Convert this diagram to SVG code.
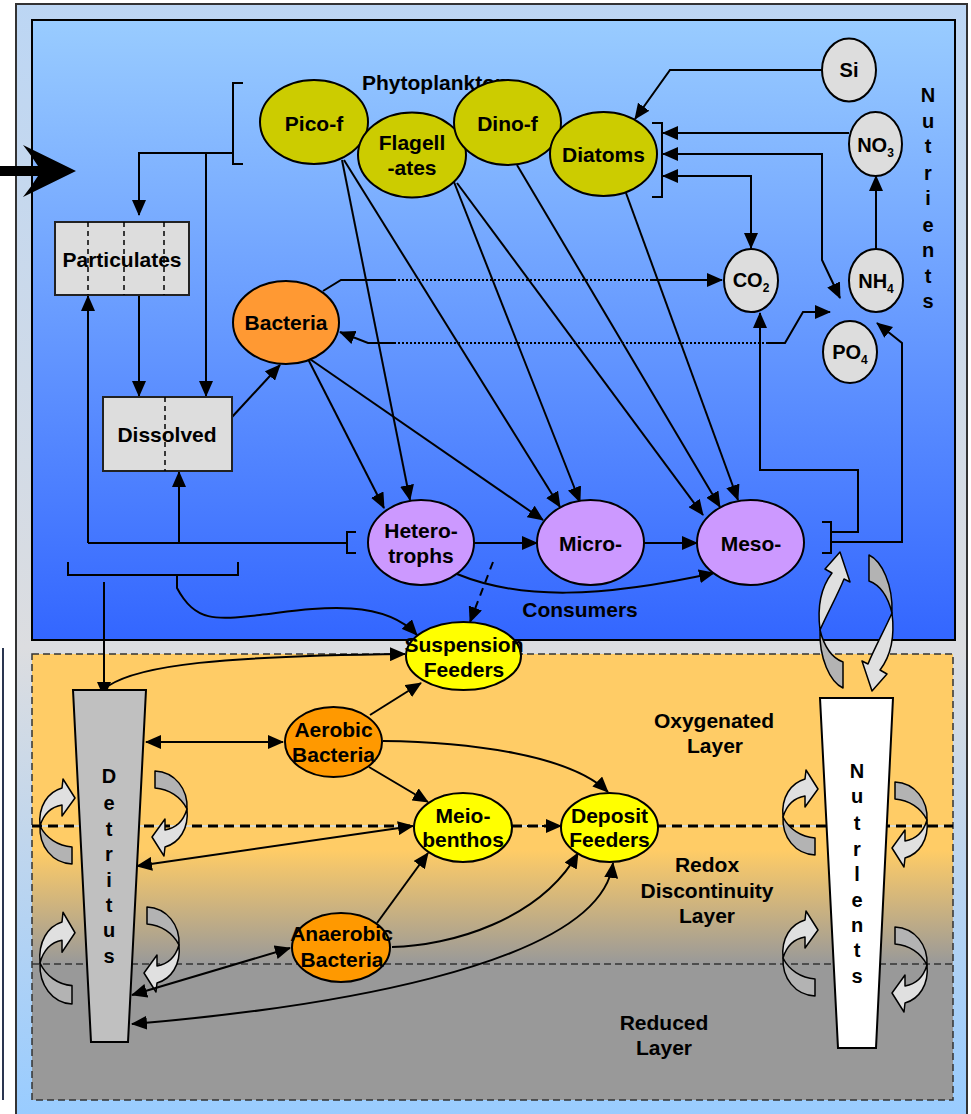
<svg xmlns="http://www.w3.org/2000/svg" width="971" height="1114" viewBox="0 0 971 1114">
<style>
.t{font-family:"Liberation Sans",Arial,Helvetica,sans-serif;font-weight:bold;font-size:21px;fill:#000;text-anchor:middle}
.v{font-size:20px}
.ch{font-size:20px}
.sub{font-size:12px}
.c{fill:none;stroke:#000;stroke-width:2}
.a{marker-end:url(#ah)}
.b{marker-start:url(#ah);marker-end:url(#ah)}
.dot{stroke-dasharray:2,2}
.dsh{stroke-dasharray:8,6}
.nd{stroke:#000;stroke-width:2}
.phy{fill:#cccc00}
.bac{fill:#ff9933}
.bac2{fill:#ff9900}
.con{fill:#cc99ff}
.yel{fill:#ffff00}
.nut{fill:#dddddd}
.box{fill:#dddddd;stroke:#222;stroke-width:2}
.bd{stroke:#000;stroke-width:1.5;stroke-dasharray:5,4}
.cl{fill:#e0e0e0;stroke:#000;stroke-width:1.5;stroke-linejoin:round}
.cd{fill:#b3b3b3;stroke:#000;stroke-width:1.5;stroke-linejoin:round}
</style>
<defs>
<linearGradient id="gFrame" gradientUnits="userSpaceOnUse" x1="0" y1="4" x2="0" y2="1114">
<stop offset="0" stop-color="#bcd6f4"/><stop offset="0.58" stop-color="#dcdde0"/><stop offset="1" stop-color="#99ccff"/>
</linearGradient>
<linearGradient id="gTop" gradientUnits="userSpaceOnUse" x1="0" y1="20" x2="0" y2="640">
<stop offset="0" stop-color="#99ccff"/><stop offset="1" stop-color="#3366ff"/>
</linearGradient>
<linearGradient id="gBot" gradientUnits="userSpaceOnUse" x1="0" y1="654" x2="0" y2="1100">
<stop offset="0" stop-color="#ffcc66"/><stop offset="0.44" stop-color="#ffcc66"/><stop offset="0.695" stop-color="#999999"/><stop offset="1" stop-color="#999999"/>
</linearGradient>
<marker id="ah" viewBox="0 0 16 14" refX="15" refY="7" markerWidth="16" markerHeight="14" markerUnits="userSpaceOnUse" orient="auto-start-reverse">
<path d="M0,0 L16,7 L0,14 Z" fill="#000"/>
</marker>
<g id="curlL">
<path class="cd" d="M0,0 C-1,20 12,37 32,38 L32,21 C18,20 6,12 0,0 Z"/>
<path class="cl" d="M0,0 C-2,-20 8,-34 22,-38 L23,-47 L35,-28 L22,-10 L22,-21 C10,-19 3,-10 0,0 Z"/>
</g>
<g id="curlT">
<path class="cd" d="M0,0 C-1,28 10,52 23,58 L23,32 C12,28 4,16 0,0 Z"/>
<path class="cl" d="M0,0 C-3,-24 2,-44 12,-57 L5,-61 L20,-78 L30,-48 L24,-51 C18,-36 8,-18 0,0 Z"/>
</g>
</defs>

<g id="background">
<rect x="0" y="0" width="971" height="1114" fill="#ffffff"/>
<rect x="16" y="4" width="951" height="1115" fill="url(#gFrame)" stroke="#333" stroke-width="2"/>
<line x1="3" y1="648" x2="3" y2="1100" stroke="#2a3550" stroke-width="2"/>
<rect id="water-column" x="32" y="20" width="923" height="620" fill="url(#gTop)" stroke="#000" stroke-width="2"/>
<rect id="sediment" x="32" y="654" width="921" height="446" fill="url(#gBot)" stroke="#333" stroke-width="1.5" stroke-dasharray="7,4"/>
<line x1="32" y1="826" x2="953" y2="826" stroke="#cfe0f5" stroke-width="1.5"/>
<line x1="32" y1="826" x2="953" y2="826" stroke="#000" stroke-width="3" stroke-dasharray="10,6"/>
<line x1="32" y1="964" x2="953" y2="964" stroke="#333" stroke-width="1.5" stroke-dasharray="7,4"/>
</g>

<g id="layer-labels">
<text class="t" x="714" y="728">Oxygenated</text>
<text class="t" x="715" y="753">Layer</text>
<text class="t" x="707" y="872">Redox</text>
<text class="t" x="707" y="898">Discontinuity</text>
<text class="t" x="707" y="923">Layer</text>
<text class="t" x="664" y="1030">Reduced</text>
<text class="t" x="664" y="1055">Layer</text>
<text class="t" x="580" y="617">Consumers</text>
</g>

<g id="mixing-arrows">
<use href="#curlL" transform="translate(40,826)"/>
<use href="#curlL" transform="translate(187,809) rotate(180)"/>
<use href="#curlL" transform="translate(40,963) scale(1,1.08)"/>
<use href="#curlL" transform="translate(179,945) rotate(180)"/>
<use href="#curlL" transform="translate(783,817)"/>
<use href="#curlL" transform="translate(927,820) rotate(180)"/>
<use href="#curlL" transform="translate(783,958)"/>
<use href="#curlL" transform="translate(927,965) rotate(180)"/>
<use href="#curlT" transform="translate(820,630)"/>
<use href="#curlT" transform="translate(892,613) rotate(180)"/>
</g>

<g id="connectors">
<path class="c" d="M243,83 L233,83 L233,164 L243,164"/>
<path class="c a" d="M233,153 L139,153 L139,215"/>
<path class="c a" d="M206,153 L206,396"/>
<path class="c a" d="M139,295 L139,396"/>
<path class="c a" d="M232,417 L280,365"/>
<path class="c" d="M356,532 L347,532 L347,553 L356,553"/>
<path class="c" d="M347,543 L88,543"/>
<path class="c a" d="M88,543 L88,296"/>
<path class="c a" d="M179,543 L179,472"/>
<path class="c" d="M68,562 L68,575 L238,575 L238,562"/>
<path class="c a" d="M177,575 L177,588 C195,622 215,620 260,615 S380,595 417,635"/>
<path class="c a" d="M104,582 L104,697"/>
<path class="c" d="M652,123 L662,123 L662,197 L652,197"/>
<path class="c a" d="M822,70 L670,70 L635,119"/>
<path class="c a" d="M849,133 L663,133"/>
<path class="c b" d="M663,154 L822,154 L822,260 L840,298"/>
<path class="c b" d="M663,176 L751,176 L751,248"/>
<path class="c a" d="M876,249 L876,176"/>
<path class="c" d="M323,291 L341,280 L394,280"/>
<path class="c dot" d="M394,280 L652,280"/>
<path class="c a" d="M652,280 L722,280"/>
<path class="c" d="M340,332 L368,343 L394,343" marker-start="url(#ah)"/>
<path class="c dot" d="M394,343 L768,343"/>
<path class="c a" d="M768,343 L785,343 L803,312 L830,312"/>
<path class="c" d="M822,522 L831,522 L831,553 L822,553"/>
<path class="c a" d="M831,532 L858,532 L858,470 L760,470 L760,313"/>
<path class="c a" d="M831,542 L902,542 L902,343 L877,323"/>
<path class="c a" d="M342,160 L410,500"/>
<path class="c a" d="M344,160 L560,507"/>
<path class="c a" d="M454,182 L580,502"/>
<path class="c a" d="M457,183 L703,515"/>
<path class="c a" d="M517,165 L720,507"/>
<path class="c a" d="M626,193 L738,500"/>
<path class="c a" d="M307,357 L384,508"/>
<path class="c a" d="M307,357 L543,520"/>
<path class="c a" d="M474,543 L537,543"/>
<path class="c a" d="M644,543 L697,543"/>
<path class="c a" d="M457,574 C520,600 600,598 714,573"/>
<path class="c a dsh" d="M493,562 L470,622"/>
<path class="c a" d="M108,686 C140,665 220,656 405,654"/>
<path class="c b" d="M146,742 L283,742"/>
<path class="c a" d="M370,715 L421,683"/>
<path class="c a" d="M383,741 C470,742 570,755 608,792"/>
<path class="c a" d="M369,767 L428,802"/>
<path class="c b" d="M137,866 L413,826"/>
<path class="c a" d="M512,826 L561,826" stroke-dasharray="10,5"/>
<path class="c a" d="M377,923 L428,853"/>
<path class="c a" d="M392,947 C450,946 540,920 578,853"/>
<path class="c b" d="M132,995 L290,948"/>
<path class="c b" d="M132,1024 C300,1010 600,970 613,863"/>
</g>

<g id="phytoplankton-label"><text class="t" x="362" y="90" style="text-anchor:start">Phytoplankton</text></g>
<g id="pico-f"><ellipse class="nd phy" cx="314" cy="122" rx="54" ry="42"/><text class="t" x="314" y="131">Pico-f</text></g>
<g id="flagellates"><ellipse class="nd phy" cx="412" cy="155" rx="54" ry="42.5"/><text class="t" x="412" y="150">Flagell</text><text class="t" x="412" y="175">-ates</text></g>
<g id="dino-f"><ellipse class="nd phy" cx="507.5" cy="122.5" rx="53.5" ry="42.5"/><text class="t" x="507.5" y="131">Dino-f</text></g>
<g id="diatoms"><ellipse class="nd phy" cx="603.5" cy="154" rx="53.5" ry="42"/><text class="t" x="603.5" y="162">Diatoms</text></g>

<g id="si"><ellipse class="nd nut" cx="849" cy="70" rx="27" ry="31.5"/><text class="t ch" x="849" y="77">Si</text></g>
<g id="no3"><ellipse class="nd nut" cx="875.5" cy="144" rx="26.5" ry="32"/><text class="t ch" x="875.5" y="152">NO<tspan class="sub" dy="5">3</tspan></text></g>
<g id="co2"><ellipse class="nd nut" cx="751" cy="280.5" rx="27" ry="31.5"/><text class="t ch" x="751" y="287">CO<tspan class="sub" dy="5">2</tspan></text></g>
<g id="nh4"><ellipse class="nd nut" cx="876" cy="280.5" rx="27" ry="31.5"/><text class="t ch" x="876" y="288">NH<tspan class="sub" dy="5">4</tspan></text></g>
<g id="po4"><ellipse class="nd nut" cx="850" cy="352" rx="27" ry="31"/><text class="t ch" x="850" y="359">PO<tspan class="sub" dy="5">4</tspan></text></g>
<g id="nutrients-label"><text class="t v" x="928"><tspan x="928" y="102">N</tspan><tspan x="928" y="128">u</tspan><tspan x="928" y="153">t</tspan><tspan x="928" y="180">r</tspan><tspan x="928" y="205">i</tspan><tspan x="928" y="232">e</tspan><tspan x="928" y="257">n</tspan><tspan x="928" y="283">t</tspan><tspan x="928" y="308">s</tspan></text></g>

<g id="particulates"><rect class="box" x="55" y="222" width="134" height="73"/>
<path class="bd" d="M88,222 V295 M124,222 V295 M164,222 V295"/>
<text class="t" x="122" y="267">Particulates</text></g>
<g id="dissolved"><rect class="box" x="103" y="397" width="129" height="74"/>
<path class="bd" d="M165,397 V471"/>
<text class="t" x="167" y="442">Dissolved</text></g>
<g id="bacteria"><ellipse class="nd bac" cx="286" cy="322.5" rx="53" ry="41.5"/><text class="t" x="286" y="330">Bacteria</text></g>

<g id="heterotrophs"><ellipse class="nd con" cx="421" cy="542.5" rx="53" ry="42.5"/><text class="t" x="421" y="538">Hetero-</text><text class="t" x="421" y="563">trophs</text></g>
<g id="micro"><ellipse class="nd con" cx="590.5" cy="542.5" rx="53.5" ry="42.5"/><text class="t" x="590.5" y="551">Micro-</text></g>
<g id="meso"><ellipse class="nd con" cx="750.5" cy="542.5" rx="53.5" ry="42.5"/><text class="t" x="751" y="551">Meso-</text></g>

<g id="suspension-feeders"><ellipse class="nd yel" cx="463.5" cy="656" rx="57.5" ry="34"/><text class="t" x="464" y="652">Suspension</text><text class="t" x="464" y="677">Feeders</text></g>
<g id="aerobic-bacteria"><ellipse class="nd bac2" cx="333.5" cy="742" rx="48.5" ry="35"/><text class="t" x="333.5" y="737">Aerobic</text><text class="t" x="333.5" y="762">Bacteria</text></g>
<g id="meiobenthos"><ellipse class="nd yel" cx="463" cy="827.5" rx="49" ry="34.5"/><text class="t" x="463" y="823">Meio-</text><text class="t" x="463" y="847">benthos</text></g>
<g id="deposit-feeders"><ellipse class="nd yel" cx="609.5" cy="827.5" rx="48.5" ry="34.5"/><text class="t" x="609.5" y="823">Deposit</text><text class="t" x="609.5" y="847">Feeders</text></g>
<g id="anaerobic-bacteria"><ellipse class="nd bac2" cx="341" cy="947.5" rx="49" ry="34.5"/><text class="t" x="341.5" y="941">Anaerobic</text><text class="t" x="342" y="967">Bacteria</text></g>

<g id="detritus"><polygon points="73,690 146,690 128,1042 91,1042" fill="#c0c0c0" stroke="#000" stroke-width="2"/>
<text class="t v" x="109"><tspan x="109" y="783">D</tspan><tspan x="109" y="810">e</tspan><tspan x="109" y="836">t</tspan><tspan x="109" y="861">r</tspan><tspan x="109" y="887">i</tspan><tspan x="109" y="912">t</tspan><tspan x="109" y="937">u</tspan><tspan x="109" y="963">s</tspan></text></g>
<g id="nutrients-column"><polygon points="820,698 893,698 876,1048 838,1048" fill="#ffffff" stroke="#000" stroke-width="2"/>
<text class="t v" x="857"><tspan x="857" y="778">N</tspan><tspan x="857" y="803">u</tspan><tspan x="857" y="830">t</tspan><tspan x="857" y="856">r</tspan><tspan x="857" y="881">l</tspan><tspan x="857" y="907">e</tspan><tspan x="857" y="932">n</tspan><tspan x="857" y="957">t</tspan><tspan x="857" y="983">s</tspan></text></g>

<g id="input-arrow"><path d="M0,166 L38,166 Q31,155 23,145 L76,171 L23,197 Q31,187 38,176 L0,176 Z" fill="#000"/></g>
</svg>
